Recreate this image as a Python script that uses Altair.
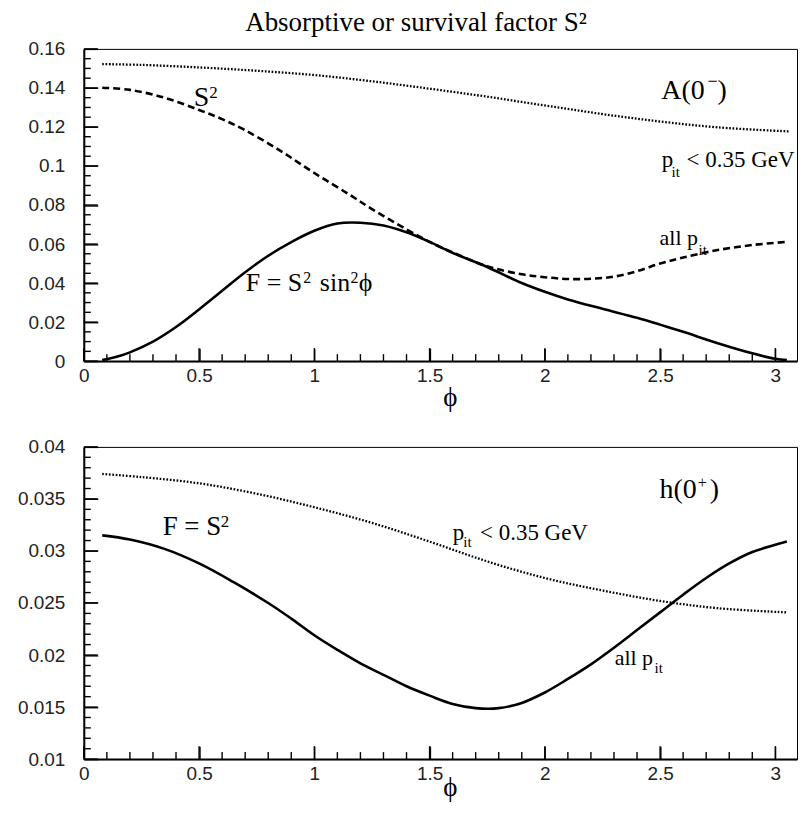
import altair as alt
import pandas as pd

# ---------------- data ----------------
# Top panel: A(0-)
top_dot_x = [0.08, 0.25, 0.5, 0.75, 1.0, 1.25, 1.5, 1.75, 2.0, 2.25, 2.5, 2.75, 3.06]
top_dot_y = [0.1522, 0.1518, 0.1505, 0.1488, 0.1466, 0.1434, 0.1396, 0.1355, 0.1310, 0.1266, 0.1228, 0.1198, 0.1177]

top_dash_x = [0.08, 0.2, 0.35, 0.5, 0.6, 0.7, 0.85, 1.0, 1.15, 1.25, 1.4, 1.5, 1.6, 1.75, 1.9, 2.0,
              2.1, 2.2, 2.3, 2.4, 2.5, 2.6, 2.75, 2.9, 3.05]
top_dash_y = [0.1401, 0.1390, 0.1350, 0.1287, 0.1240, 0.1183, 0.1080, 0.0964, 0.0855, 0.0779, 0.0675,
              0.0611, 0.0557, 0.0486, 0.0445, 0.0430, 0.0421, 0.0422, 0.0433, 0.0461, 0.0500, 0.0531,
              0.0569, 0.0595, 0.0611]

top_solid_x = [0.08, 0.15, 0.2, 0.3, 0.4, 0.5, 0.6, 0.7, 0.8, 0.9, 1.0, 1.1, 1.2, 1.3, 1.4, 1.5, 1.6,
               1.75, 1.9, 2.0, 2.1, 2.25, 2.4, 2.5, 2.6, 2.75, 2.9, 3.0, 3.05]
top_solid_y = [0.0005, 0.0025, 0.0045, 0.0100, 0.0175, 0.0265, 0.0360, 0.0455, 0.0540, 0.0610, 0.0668,
               0.0705, 0.0709, 0.0695, 0.0660, 0.0611, 0.0555, 0.0482, 0.0400, 0.0355, 0.0316, 0.0268,
               0.0222, 0.0187, 0.0150, 0.0092, 0.0040, 0.0012, 0.0005]

# Bottom panel: h(0+)
bot_dot_x = [0.08, 0.25, 0.5, 0.75, 1.0, 1.25, 1.5, 1.75, 2.0, 2.25, 2.5, 2.75, 3.05]
bot_dot_y = [0.0374, 0.0371, 0.0365, 0.0355, 0.0342, 0.0327, 0.0309, 0.0290, 0.0274, 0.0262, 0.0252,
             0.0245, 0.0241]

bot_solid_x = [0.08, 0.2, 0.35, 0.5, 0.65, 0.8, 0.9, 1.0, 1.1, 1.2, 1.3, 1.4, 1.5, 1.6, 1.7, 1.8, 1.9,
               2.0, 2.1, 2.2, 2.3, 2.4, 2.5, 2.6, 2.7, 2.8, 2.9, 3.0, 3.05]
bot_solid_y = [0.0315, 0.0311, 0.0302, 0.0288, 0.0270, 0.0250, 0.0235, 0.0219, 0.0205, 0.0192, 0.0181,
               0.0170, 0.0161, 0.0153, 0.0149, 0.0149, 0.0154, 0.0164, 0.0177, 0.0191, 0.0207, 0.0224,
               0.0241, 0.0258, 0.0274, 0.0288, 0.0299, 0.0306, 0.0309]

# tick values / labels
x_major = [0, 0.5, 1, 1.5, 2, 2.5, 3]
x_minor = [v / 10 for v in range(1, 31) if v % 5 != 0]
top_y_major = [0, 0.02, 0.04, 0.06, 0.08, 0.1, 0.12, 0.14, 0.16]
top_y_minor = [round(v * 0.005, 3) for v in range(1, 32) if v % 4 != 0]
bot_y_major = [0.01, 0.015, 0.02, 0.025, 0.03, 0.035, 0.04]
bot_y_minor = [round(v * 0.001, 3) for v in range(11, 40) if v % 5 != 0]

# annotation pieces (text, x, y[baseline], font size)
top_text = ["S", "2", "F = S", "2", "sin", "2", "\u03d5", "A(0", "\u2212", ")",
            "p", "it", "< 0.35 GeV", "all p", "it"]
top_tx = [0.477, 0.544, 0.703, 0.952, 1.024, 1.157, 1.1925, 2.505, 2.706, 2.749,
          2.507, 2.550, 2.615, 2.498, 2.667]
top_ty = [0.1308, 0.1348, 0.03576, 0.0401, 0.03576, 0.0401, 0.03576, 0.1343, 0.1406, 0.1343,
          0.0996, 0.0944, 0.0996, 0.0593, 0.0542]
top_ts = [28, 17, 26, 16, 26, 16, 26, 28, 18, 28, 23, 15, 23, 22, 15]

bot_text = ["h(0", "+", ")", "F = S", "2", "p", "it", "< 0.35 GeV", "all p", "it"]
bot_tx = [2.498, 2.663, 2.715, 0.342, 0.594, 1.601, 1.646, 1.719, 2.303, 2.476]
bot_ty = [0.03509, 0.03604, 0.03509, 0.03151, 0.03226, 0.03104, 0.03038, 0.03104, 0.01906, 0.01830]
bot_ts = [28, 16, 28, 27, 17, 23, 15, 23, 22, 15]

TITLE = "Absorptive or survival factor S\u00b2"

# ---------------- chart ----------------
W, H = 715, 313
XMAX = 3.094          # keeps ~231 px per unit on the x axis
SERIF = "Liberation Serif"
SANS = "Liberation Sans"
X_MAJ_LEN, X_MIN_LEN, Y_MAJ_LEN, Y_MIN_LEN = 13, 7, 14, 7   # tick lengths in px

x_scale = alt.Scale(domain=[0, XMAX], nice=False, zero=False)


def ysc(d):
    return alt.Scale(domain=d, nice=False, zero=False)


def x_label_axis(tpad):
    # inward major ticks (negative size given as an expression), labels kept outside
    return alt.Axis(orient="bottom", values=x_major, format="~g",
                    ticks=True, tickSize=alt.ExprRef("-%d" % X_MAJ_LEN), tickWidth=1.4,
                    tickColor="black",
                    domain=True, domainColor="black", domainWidth=2, grid=False,
                    labelFont=SANS, labelFontSize=19, labelColor="#222",
                    labelPadding=5 + X_MAJ_LEN,
                    labelFlush=False, labelOverlap=False,
                    title="\u03d5", titleFont=SERIF, titleFontSize=27, titleFontWeight="normal",
                    titleColor="black", titlePadding=tpad, titleX=367,
                    minExtent=24, maxExtent=24)


def y_label_axis(vals):
    return alt.Axis(orient="left", values=vals, format="~g",
                    ticks=True, tickSize=alt.ExprRef("-%d" % Y_MAJ_LEN), tickWidth=1.4,
                    tickColor="black",
                    domain=True, domainColor="black", domainWidth=2, grid=False,
                    labelFont=SANS, labelFontSize=19, labelColor="#222",
                    labelPadding=19 + Y_MAJ_LEN,
                    labelOverlap=False, title=None, minExtent=75, maxExtent=75)


def tick_table(ydom, ymaj, ymin):
    """Inward tick segments: two end points per tick, grouped by id."""
    ypx = (ydom[1] - ydom[0]) / H      # data units per pixel (vertical)
    xpx = XMAX / W                     # data units per pixel (horizontal)
    rows = []
    k = 0
    for vals, size in [(x_major, X_MAJ_LEN), (x_minor, X_MIN_LEN)]:
        for v in vals:
            rows.append({"id": k, "x": v, "y": ydom[0]})
            rows.append({"id": k, "x": v, "y": ydom[0] + size * ypx})
            k += 1
    for vals, size in [(ymaj, Y_MAJ_LEN), (ymin, Y_MIN_LEN)]:
        for v in vals:
            rows.append({"id": k, "x": 0.0, "y": v})
            rows.append({"id": k, "x": size * xpx, "y": v})
            k += 1
    return pd.DataFrame(rows)


def make_panel(ydom, ymaj, ymin, lines, t, tx, ty, ts, tpad):
    xa = x_label_axis(tpad)
    ya = y_label_axis(ymaj)
    X = lambda f: alt.X(f, scale=x_scale, axis=xa)
    Y = lambda f: alt.Y(f, scale=ysc(ydom), axis=ya)
    layers = []
    for xs, ys, width, dash in lines:
        kw = dict(color="black", strokeWidth=width, interpolate="catmull-rom", clip=True)
        if dash:
            kw["strokeDash"] = dash
        layers.append(alt.Chart(pd.DataFrame({"x": xs, "y": ys})).mark_line(**kw)
                      .encode(x=X("x:Q"), y=Y("y:Q")))
    layers.append(
        alt.Chart(tick_table(ydom, ymaj, ymin))
        .mark_line(color="black", strokeWidth=1.4, strokeCap="butt")
        .encode(x=X("x:Q"), y=Y("y:Q"), detail="id:N")
    )
    layers.append(
        alt.Chart(pd.DataFrame({"t": t, "x": tx, "y": ty, "s": ts}))
        .mark_text(align="left", baseline="alphabetic", font=SERIF, color="black")
        .encode(x=X("x:Q"), y=Y("y:Q"), text="t:N", size=alt.Size("s:Q", scale=None, legend=None))
    )
    return alt.layer(*layers).properties(width=W, height=H)


top = make_panel([0, 0.16], top_y_major, top_y_minor,
                 [(top_dot_x, top_dot_y, 2.3, [1.7, 1.7]),
                  (top_dash_x, top_dash_y, 2.6, [7, 4]),
                  (top_solid_x, top_solid_y, 2.6, None)],
                 top_text, top_tx, top_ty, top_ts, 0)

bottom = make_panel([0.01, 0.04], bot_y_major, bot_y_minor,
                    [(bot_dot_x, bot_dot_y, 2.3, [1.7, 1.7]),
                     (bot_solid_x, bot_solid_y, 2.6, None)],
                    bot_text, bot_tx, bot_ty, bot_ts, -9)

chart = alt.vconcat(top, bottom, spacing=25).properties(
    title=alt.TitleParams(TITLE, font=SERIF, fontSize=27, fontWeight="normal", color="black",
                          anchor="middle", offset=2, dx=13),
    padding={"left": 0, "top": 0, "right": 0, "bottom": 0},
).configure_view(stroke="black", strokeWidth=1)

chart.save("out.html", embed_options={"renderer": "svg", "actions": False})
